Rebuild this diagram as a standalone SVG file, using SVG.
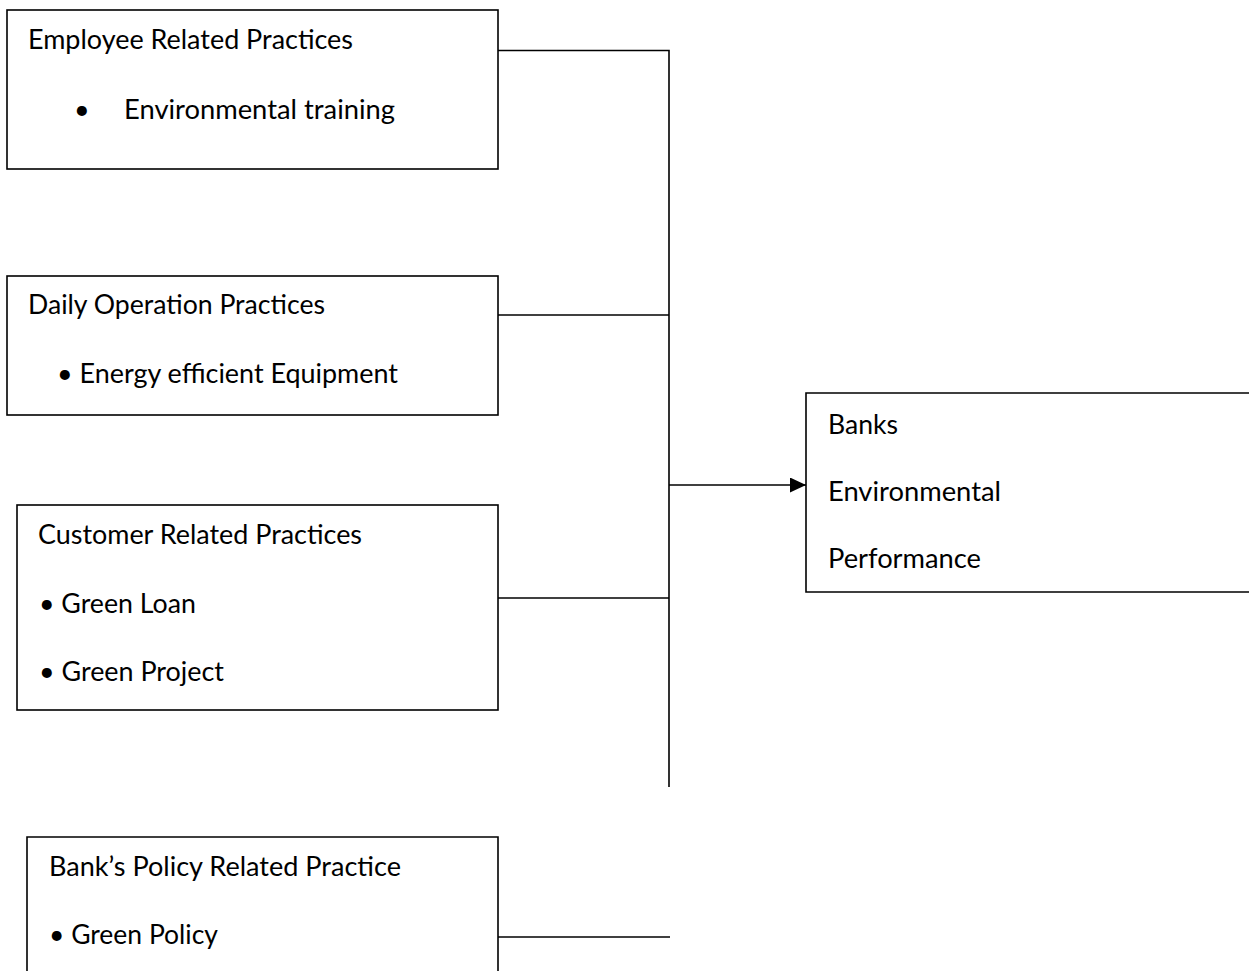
<svg xmlns="http://www.w3.org/2000/svg" width="1249" height="971" viewBox="0 0 1249 971">
<style>
.box{fill:#fff;stroke:#000;stroke-width:1.6}
.t{font-family:Lato,"Open Sans","Liberation Sans",sans-serif;font-size:27px;fill:#000}
.c{fill:none;stroke:#000;stroke-width:1.6}
</style>
<defs>
<marker id="ah" markerUnits="userSpaceOnUse" markerWidth="16" markerHeight="16" refX="16" refY="7.5" orient="auto">
<path d="M0,0 L16,7.5 L0,15 Z" fill="#000"/>
</marker>
</defs>
<rect width="1249" height="971" fill="#fff"/>
<g id="connectors">
<path class="c" d="M498,50.5 H669 V787"/>
<path class="c" d="M498,315 H669"/>
<path class="c" d="M498,598 H669"/>
<path class="c" d="M498,937 H670"/>
<path class="c" d="M669,485 H806" marker-end="url(#ah)"/>
</g>
<g id="employee">
<rect class="box" x="7" y="10" width="491" height="159"/>
<text class="t" x="28" y="49" textLength="325" lengthAdjust="spacingAndGlyphs">Employee Related Practices</text>
<text class="t" x="74" y="119">•</text>
<text class="t" x="124" y="119" textLength="271" lengthAdjust="spacingAndGlyphs">Environmental training</text>
</g>
<g id="daily">
<rect class="box" x="7" y="276" width="491" height="139"/>
<text class="t" x="28" y="314" textLength="297" lengthAdjust="spacingAndGlyphs">Daily Operation Practices</text>
<text class="t" x="57" y="383" textLength="341" lengthAdjust="spacingAndGlyphs">• Energy efficient Equipment</text>
</g>
<g id="customer">
<rect class="box" x="17" y="505" width="481" height="205"/>
<text class="t" x="38" y="544" textLength="324" lengthAdjust="spacingAndGlyphs">Customer Related Practices</text>
<text class="t" x="39" y="613" textLength="157" lengthAdjust="spacingAndGlyphs">• Green Loan</text>
<text class="t" x="39" y="681" textLength="185" lengthAdjust="spacingAndGlyphs">• Green Project</text>
</g>
<g id="policy">
<path class="box" d="M27,975 V837 H498 V975"/>
<text class="t" x="49" y="876" textLength="352" lengthAdjust="spacingAndGlyphs">Bank’s Policy Related Practice</text>
<text class="t" x="49" y="944" textLength="169" lengthAdjust="spacingAndGlyphs">• Green Policy</text>
</g>
<g id="performance">
<path class="box" d="M1252,393 H806 V592 H1252"/>
<text class="t" x="828" y="434" textLength="70" lengthAdjust="spacingAndGlyphs">Banks</text>
<text class="t" x="828" y="501" textLength="173" lengthAdjust="spacingAndGlyphs">Environmental</text>
<text class="t" x="828" y="568" textLength="153" lengthAdjust="spacingAndGlyphs">Performance</text>
</g>
</svg>
